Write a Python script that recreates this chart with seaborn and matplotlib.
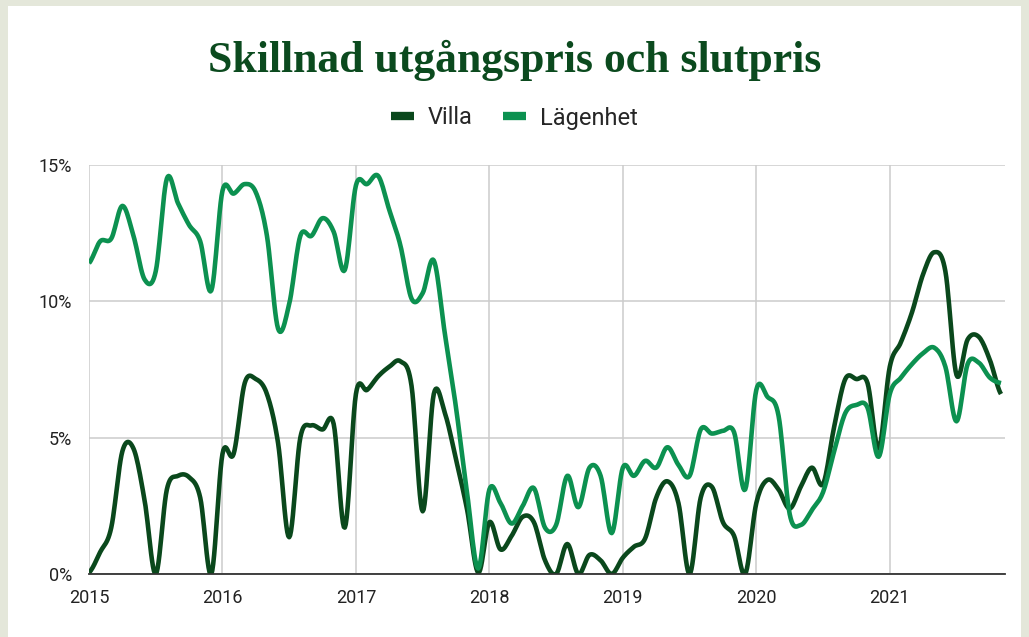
import numpy as np
import pandas as pd
import matplotlib
matplotlib.use("Agg")
import matplotlib.pyplot as plt
import seaborn as sns
from matplotlib.patches import Rectangle
from matplotlib.lines import Line2D

# monthly values, Jan 2015 - Nov 2021 (percent)
villa = [0.05, 0.8, 1.7, 4.5, 4.6, 2.7, 0.0, 3.1, 3.6, 3.55, 2.8, 0.0,
         4.4, 4.4, 7.0, 7.15, 6.6, 4.8, 1.35, 5.0, 5.45, 5.3,
         5.5, 1.7, 6.6, 6.75, 7.25, 7.6, 7.8, 6.9, 2.3, 6.6, 5.9, 4.2,
         2.35, 0.05, 1.9, 0.9, 1.4, 2.1, 1.9, 0.5,
         0.0, 1.1, 0.0, 0.7, 0.5, 0.0, 0.6, 1.0, 1.3, 2.8, 3.4, 2.6,
         0.0, 2.8, 3.2, 1.9, 1.4, 0.0, 2.6, 3.45, 3.1,
         2.4, 3.2, 3.9, 3.3, 5.4, 7.15, 7.15, 7.0, 4.6,
         7.6, 8.5, 9.6, 11.0, 11.8, 11.1, 7.3, 8.6, 8.7, 7.85, 6.6]
lagenhet = [11.4, 12.2, 12.3, 13.5, 12.4, 10.8, 11.1, 14.5, 13.6, 12.8, 12.2, 10.4,
            14.05, 13.95, 14.3, 14.0, 12.4, 9.0, 9.9, 12.4, 12.4, 13.05,
            12.55, 11.15, 14.25, 14.3, 14.6, 13.35, 12.05, 10.1, 10.3, 11.5, 8.8, 6.1,
            2.95, 0.2, 3.1, 2.6, 1.85, 2.5, 3.15, 1.7,
            1.8, 3.6, 2.45, 3.9, 3.6, 1.5, 3.9, 3.6, 4.15, 3.9, 4.65, 4.0,
            3.6, 5.3, 5.15, 5.25, 5.2, 3.1, 6.75, 6.5, 5.8,
            2.2, 1.8, 2.35, 3.0, 4.5, 5.9, 6.2, 6.1, 4.3,
            6.6, 7.2, 7.7, 8.1, 8.3, 7.6, 5.6, 7.7, 7.75, 7.2, 7.0]
years = [2015, 2016, 2017, 2018, 2019, 2020, 2021]
y_ticks = [0, 5, 10, 15]

VILLA_COLOR = "#0a481c"
LAG_COLOR = "#0c9150"


def smooth(x, y, n=12):
    """Catmull-Rom curve through the monthly points, like the smoothed chart."""
    x = np.asarray(x, float)
    y = np.asarray(y, float)
    ext = np.concatenate([[y[0]], y, [y[-1]]])
    xs, ys = [], []
    t = np.linspace(0, 1, n, endpoint=False)
    for i in range(len(y) - 1):
        p0, p1, p2, p3 = ext[i], ext[i + 1], ext[i + 2], ext[i + 3]
        m1 = (p2 - p0) / 2
        m2 = (p3 - p1) / 2
        h00 = 2 * t**3 - 3 * t**2 + 1
        h10 = t**3 - 2 * t**2 + t
        h01 = -2 * t**3 + 3 * t**2
        h11 = t**3 - t**2
        ys.append(h00 * p1 + h10 * m1 + h01 * p2 + h11 * m2)
        xs.append(x[i] + t * (x[i + 1] - x[i]))
    xs.append([x[-1]])
    ys.append([y[-1]])
    return np.concatenate(xs), np.concatenate(ys)


months = 2015 + np.arange(len(villa)) / 12.0
frames = []
for name, vals in [("Villa", villa), ("Lägenhet", lagenhet)]:
    sx, sy = smooth(months, vals)
    frames.append(pd.DataFrame({"x": sx, "y": sy, "serie": name}))
df = pd.concat(frames, ignore_index=True)

sns.set_style("white")
plt.rcParams["font.family"] = ["Roboto", "DejaVu Sans"]

fig = plt.figure(figsize=(10.29, 6.37), dpi=100)
fig.patch.set_facecolor("#e4e7da")
card = Rectangle((8 / 1029, 0), 1013 / 1029, 1 - 6 / 637,
                 transform=fig.transFigure, facecolor="white",
                 edgecolor="none", zorder=-5)
fig.patches.append(card)

ax = fig.add_axes([89 / 1029, 1 - 574 / 637, (1005 - 89) / 1029, (574 - 165) / 637])
ax.set_zorder(2)
ax.set_facecolor("none")

sns.lineplot(data=df, x="x", y="y", hue="serie", sort=False, estimator=None,
             palette={"Villa": VILLA_COLOR, "Lägenhet": LAG_COLOR},
             linewidth=3.3, legend=False, ax=ax, zorder=3)
for ln in ax.lines:
    ln.set_solid_capstyle("butt")
    ln.set_solid_joinstyle("round")

ax.set_xlim(2015, months[-1] + 0.03)
ax.set_ylim(0, 15)
ax.set_xticks(years)
ax.set_xticklabels([str(y) for y in years])
ax.set_yticks(y_ticks)
ax.set_yticklabels([f"{v}%" for v in y_ticks])
ax.grid(True, color="#cccccc", linewidth=1.1)
ax.set_axisbelow(True)
for s in ["top", "right", "left"]:
    ax.spines[s].set_visible(False)
ax.spines["bottom"].set_color("#333333")
ax.spines["bottom"].set_linewidth(1.3)
ax.spines["bottom"].set_zorder(4)
ax.tick_params(axis="both", length=0, labelsize=13, colors="#222222")
ax.tick_params(axis="y", pad=12)
ax.tick_params(axis="x", pad=11)
ax.set_xlabel("")
ax.set_ylabel("")

fig.text(0.5, 1 - 60 / 637, "Skillnad utgångspris och slutpris",
         ha="center", va="center", fontsize=31.5, fontweight="bold",
         family=["Liberation Serif", "DejaVu Serif"], color="#0b4a1e")

handles = [Line2D([], [], color=VILLA_COLOR, linewidth=6, solid_capstyle="butt"),
           Line2D([], [], color=LAG_COLOR, linewidth=6, solid_capstyle="butt")]
fig.legend(handles, ["Villa", "Lägenhet"], loc="center",
           bbox_to_anchor=(0.5, 1 - 118 / 637), ncol=2, frameon=False,
           fontsize=17, handlelength=0.95, handletextpad=0.6, columnspacing=1.3)

plt.savefig("out.png", dpi=100, facecolor=fig.get_facecolor())
